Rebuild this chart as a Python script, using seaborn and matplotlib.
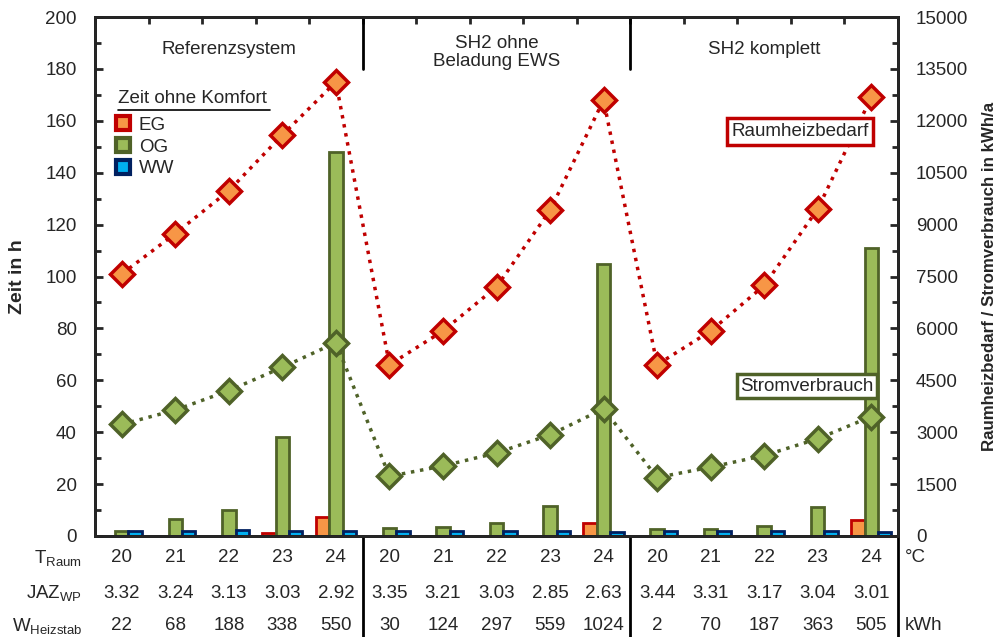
import numpy as np
import pandas as pd
import seaborn as sns
import matplotlib.pyplot as plt
from matplotlib.lines import Line2D
from matplotlib.transforms import blended_transform_factory
from matplotlib.ticker import MultipleLocator

### Daten ###
systeme = ["Referenzsystem", "SH2 ohne\nBeladung EWS", "SH2 komplett"]
t_raum = [20, 21, 22, 23, 24]
zonen = ["EG", "OG", "WW"]

# Zeit ohne Komfort in h
eg = [0, 0, 0, 1.3, 7.3, 0, 0, 0, 0, 5, 0, 0, 0, 0, 6]
og = [1.8, 6.7, 10, 38, 148, 3, 3.4, 5, 11.5, 105, 2.8, 2.8, 4, 11, 111]
ww = [1.8, 1.8, 2.4, 1.8, 1.8, 1.8, 1.8, 1.8, 1.8, 1.5, 1.8, 1.8, 2, 1.8, 1.5]

# kWh/a
raumheizbedarf = [7575, 8740, 9980, 11590, 13125, 4950, 5925, 7200, 9410, 12600,
                  4950, 5925, 7240, 9450, 12675]
stromverbrauch = [3225, 3640, 4200, 4875, 5590, 1725, 2025, 2400, 2925, 3675,
                  1690, 1990, 2325, 2810, 3450]

jaz = ["3.32", "3.24", "3.13", "3.03", "2.92", "3.35", "3.21", "3.03", "2.85", "2.63",
       "3.44", "3.31", "3.17", "3.04", "3.01"]
w_heizstab = [22, 68, 188, 338, 550, 30, 124, 297, 559, 1024, 2, 70, 187, 363, 505]

kategorien = [f"{s}-{t}" for s in range(3) for t in t_raum]
df = pd.DataFrame({
    "kat": kategorien * 3,
    "zone": ["EG"] * 15 + ["OG"] * 15 + ["WW"] * 15,
    "zeit": eg + og + ww,
})

face = {"EG": "#F79646", "OG": "#9BBB59", "WW": "#00B0F0"}
edge = {"EG": "#C00000", "OG": "#4F6228", "WW": "#002060"}

### Plot ###
sns.set_style("white")
plt.rcParams['font.family'] = ['Liberation Sans', 'DejaVu Sans']
fs = 13.5

fig, ax = plt.subplots(figsize=(10.01, 6.37), dpi=100)
fig.subplots_adjust(left=95/1001, right=898/1001, top=1-17/637, bottom=1-536/637)

sns.barplot(data=df, x="kat", y="zeit", hue="zone", order=kategorien, hue_order=zonen,
            palette=face, width=0.75, gap=0, legend=False, ax=ax, saturation=1)
for cont, z in zip(ax.containers, zonen):
    for p in cont:
        p.set_edgecolor(edge[z])
        p.set_linewidth(2 if p.get_height() > 0 else 0)

ax.set_xlim(-0.5, 14.5)
ax.set_ylim(0, 200)
ax.yaxis.set_major_locator(MultipleLocator(20))
ax.yaxis.set_minor_locator(MultipleLocator(10))
ax.set_xticks(np.arange(-0.5, 15, 1))
ax.set_xticklabels([])
ax.tick_params(axis="x", which="both", top=True, bottom=False, direction="in", length=5, width=2)
ax.tick_params(axis="y", which="both", left=True, right=False, direction="in", width=2,
               labelsize=fs, pad=13)
ax.tick_params(axis="y", which="major", length=6)
ax.tick_params(axis="y", which="minor", length=4)
ax.set_xlabel("")
ax.set_ylabel("Zeit in h", fontsize=14, fontweight="bold", labelpad=14)
for sp in ax.spines.values():
    sp.set_linewidth(2)
    sp.set_color("black")

ax2 = ax.twinx()
x = np.arange(15)
sns.lineplot(x=x, y=raumheizbedarf, ax=ax2, color="#C00000", linestyle=":", linewidth=2.5,
             marker="D", markersize=12, markerfacecolor="#F79646", markeredgecolor="#C00000",
             markeredgewidth=2.5)
sns.lineplot(x=x, y=stromverbrauch, ax=ax2, color="#4F6228", linestyle=":", linewidth=2.5,
             marker="D", markersize=12, markerfacecolor="#9BBB59", markeredgecolor="#4F6228",
             markeredgewidth=2.5)
ax2.set_ylim(0, 15000)
ax2.yaxis.set_major_locator(MultipleLocator(1500))
ax2.yaxis.set_minor_locator(MultipleLocator(750))
ax2.tick_params(axis="y", which="both", direction="in", width=2, labelsize=fs, pad=13)
ax2.tick_params(axis="y", which="major", length=6)
ax2.tick_params(axis="y", which="minor", length=4)
ax2.set_ylabel("Raumheizbedarf / Stromverbrauch in kWh/a", fontsize=12.2, fontweight="bold",
               labelpad=10)
for sp in ax2.spines.values():
    sp.set_linewidth(2)

ax2.text(12.67, 11690, "Raumheizbedarf", fontsize=fs, ha="center", va="center",
         bbox=dict(boxstyle="square,pad=0.25", fc="white", ec="#C00000", lw=2.5))
ax2.text(12.8, 4335, "Stromverbrauch", fontsize=fs, ha="center", va="center",
         bbox=dict(boxstyle="square,pad=0.2", fc="white", ec="#4F6228", lw=2.5))

# Gruppentitel und Trennlinien
for i, s in enumerate(systeme):
    ax.text(i * 5 + 2, 187.5 if "\n" not in s else 186.3, s, fontsize=fs, ha="center",
            va="center", linespacing=1.1)
for xb in [4.5, 9.5]:
    ax.plot([xb, xb], [180, 200], color="black", lw=2, clip_on=False)

# Legende
handles = [Line2D([], [], marker="s", linestyle="", markersize=10, markerfacecolor=face[z],
                  markeredgecolor=edge[z], markeredgewidth=3) for z in zonen]
ax.legend(handles, zonen, loc="upper left", bbox_to_anchor=(0.024, 0.808), frameon=False,
          fontsize=fs, handlelength=0.9, handletextpad=0.4, labelspacing=0.25,
          borderaxespad=0, borderpad=0)
ax.text(0.029, 0.835, "Zeit ohne Komfort", transform=ax.transAxes, fontsize=fs, ha="left",
        va="baseline")
ax.plot([0.029, 0.218], [0.82, 0.82], transform=ax.transAxes, color="black", lw=1.2,
        clip_on=False)

# Tabelle unter dem Diagramm
tr = blended_transform_factory(ax.transData, fig.transFigure)
zeilen_y = [1 - 558/637, 1 - 593/637, 1 - 626/637]
for i in range(15):
    ax.text(i, zeilen_y[0], str(t_raum[i % 5]), transform=tr, fontsize=fs, ha="center", va="center")
    ax.text(i, zeilen_y[1], jaz[i], transform=tr, fontsize=fs, ha="center", va="center")
    ax.text(i, zeilen_y[2], str(w_heizstab[i]), transform=tr, fontsize=fs, ha="center", va="center")

lab_x = 82 / 1001
fig.text(lab_x, zeilen_y[0], r"T$\mathregular{_{Raum}}$", fontsize=fs, ha="right", va="center")
fig.text(lab_x, zeilen_y[1], r"JAZ$\mathregular{_{WP}}$", fontsize=fs, ha="right", va="center")
fig.text(lab_x, zeilen_y[2], r"W$\mathregular{_{Heizstab}}$", fontsize=fs, ha="right", va="center")
fig.text(905/1001, zeilen_y[0], "°C", fontsize=fs, ha="left", va="center")
fig.text(905/1001, zeilen_y[2], "kWh", fontsize=fs, ha="left", va="center")

for xb in [4.5, 9.5, 14.5]:
    ax.add_line(Line2D([xb, xb], [0, 1 - 536/637], transform=tr, color="black", lw=2,
                       clip_on=False))

fig.savefig("out.png", dpi=100)
